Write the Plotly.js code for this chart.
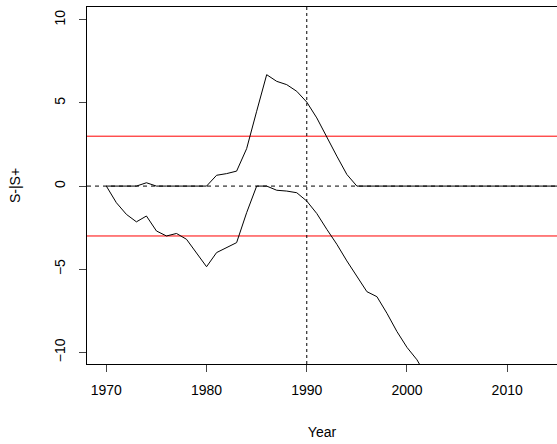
<!DOCTYPE html>
<html><head><script src="https://cdn.plot.ly/plotly-3.0.1.min.js"></script>
<style>body{margin:0}</style></head><body>
<div id="c" style="width:557px;height:444px"></div>
<script>
const yearsPlus = [];
for (let y = 1970; y <= 2016; y++) yearsPlus.push(y);
const yearsMinus = [];
for (let y = 1970; y <= 2002; y++) yearsMinus.push(y);
const sPlus = [0,0,0,0,0.2,0,0,0,0,0,0,0.65,0.75,0.9,2.25,4.5,6.7,6.3,6.1,5.7,5.05,4.1,2.9,1.8,0.7,0,0,0,0,0,0,0,0,0,0,0,0,0,0,0,0,0,0,0,0,0,0];
const sMinus = [0,-1.0,-1.7,-2.15,-1.8,-2.7,-3.0,-2.85,-3.2,-4.0,-4.85,-4.0,-3.7,-3.4,-1.6,0,0,-0.25,-0.3,-0.4,-0.9,-1.65,-2.6,-3.5,-4.5,-5.45,-6.35,-6.65,-7.65,-8.75,-9.7,-10.45,-11.5];
const threshold = 3;
const changeYear = 1990;
const xTicks = [1970,1980,1990,2000,2010];
const yTicks = [-10,-5,0,5,10];
const xr = [1968.07, 2014.97];
const traces = [
 {x:xr,y:[threshold,threshold],mode:'lines',line:{color:'#ff0000',width:1}},
 {x:xr,y:[-threshold,-threshold],mode:'lines',line:{color:'#ff0000',width:1}},
 {x:xr,y:[0,0],mode:'lines',line:{color:'#000',width:1,dash:'4px,4px'}},
 {x:[changeYear,changeYear],y:[-10.7,10.77],mode:'lines',line:{color:'#000',width:1,dash:'dot'}},
 {x:yearsPlus,y:sPlus,mode:'lines',line:{color:'#000',width:1}},
 {x:yearsMinus,y:sMinus,mode:'lines',line:{color:'#000',width:1}}
];
const f = {family:'Liberation Sans, Arial, sans-serif',size:14,color:'#000'};
Plotly.newPlot('c',traces,{
 width:557,height:444,showlegend:false,
 margin:{l:87,r:0,t:7,b:80},
 paper_bgcolor:'#fff',plot_bgcolor:'#fff',font:f,
 xaxis:{range:xr,tickvals:xTicks,showgrid:false,zeroline:false,showline:true,mirror:true,linecolor:'#000',linewidth:1,ticks:'outside',ticklen:7,ticklabelstandoff:6,tickfont:f,title:{text:'Year',font:f,standoff:30}},
 yaxis:{range:[-10.7,10.77],tickvals:yTicks,showgrid:false,zeroline:false,showline:true,linecolor:'#000',linewidth:1,ticks:'outside',ticklen:7,ticklabelstandoff:8,tickangle:-90,tickfont:f,title:{text:'S-|S+',font:f,standoff:28}}
},{staticPlot:true});
</script></body></html>
